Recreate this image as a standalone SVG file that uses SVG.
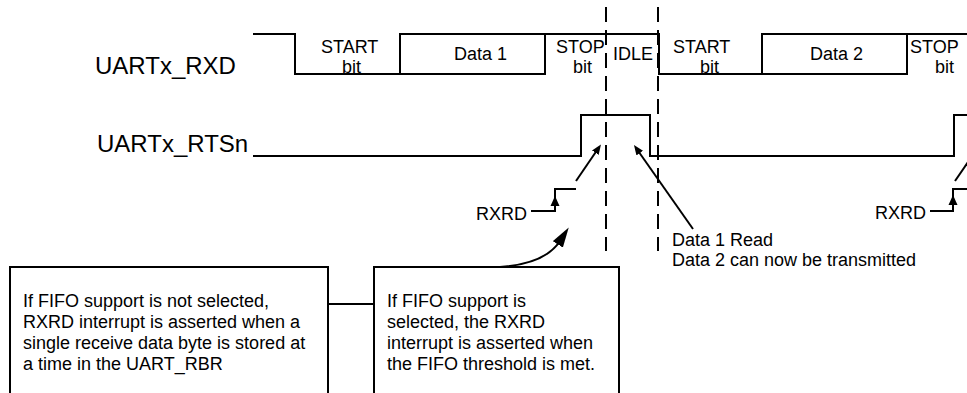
<svg xmlns="http://www.w3.org/2000/svg" width="967" height="393" viewBox="0 0 967 393">
<style>
  text { font-family: "Liberation Sans", Arial, sans-serif; fill: #000; }
  .sig { font-size: 24px; }
  .lbl { font-size: 18px; }
  .wave { fill: none; stroke: #000; stroke-width: 2; }
  .box { fill: #fff; stroke: #000; stroke-width: 2; }
  .dash { stroke: #000; stroke-width: 2; stroke-dasharray: 15 8; fill: none; }
  .conn { fill: none; stroke: #000; stroke-width: 2; }
</style>
<defs>
  <marker id="arr" markerUnits="userSpaceOnUse" markerWidth="10" markerHeight="8" refX="3" refY="4" orient="auto" viewBox="0 0 10 8">
    <path d="M0,0 L10,4 L0,8 z" fill="#000"/>
  </marker>
  <marker id="arrBig" markerUnits="userSpaceOnUse" markerWidth="20" markerHeight="12" refX="4" refY="6" orient="auto" viewBox="0 0 20 12">
    <path d="M0,0 L20,6 L0,12 z" fill="#000"/>
  </marker>
  <path id="triUp" d="M0,0 L4.5,10 L-4.5,10 z" fill="#000"/>
</defs>

<g id="rxd">
  <text class="sig" x="95" y="74">UARTx_RXD</text>
  <path class="wave" d="M253,34 H295 V74 H400 V34 H545 M400,74 H545 V34 H659 V74 H762 V34 H907 M762,74 H907 V34 H967"/>
  <text class="lbl" x="321" y="53">START</text>
  <text class="lbl" x="342" y="73">bit</text>
  <text class="lbl" x="454" y="60">Data 1</text>
  <text class="lbl" x="556" y="53">STOP</text>
  <text class="lbl" x="573" y="73">bit</text>
  <text class="lbl" x="613" y="60">IDLE</text>
  <text class="lbl" x="673" y="53">START</text>
  <text class="lbl" x="700" y="73">bit</text>
  <text class="lbl" x="810" y="60">Data 2</text>
  <text class="lbl" x="910" y="53">STOP</text>
  <text class="lbl" x="935" y="73">bit</text>
</g>

<g id="rtsn">
  <text class="sig" x="97" y="152">UARTx_RTSn</text>
  <path class="wave" d="M253,156 H581 V115 H650 V156 H954 V115 H967"/>
</g>

<g id="dashed-lines">
  <line class="dash" x1="606" y1="7" x2="606" y2="251"/>
  <line class="dash" x1="658" y1="7" x2="658" y2="251"/>
</g>

<g id="rxrd1">
  <text class="lbl" x="476" y="220">RXRD</text>
  <path class="wave" d="M531,211 H555 V189 H576"/>
  <use href="#triUp" x="555" y="196"/>
</g>

<g id="rxrd2">
  <text class="lbl" x="875" y="219">RXRD</text>
  <path class="wave" d="M930,211 H953 V189 H967"/>
  <use href="#triUp" x="953" y="195"/>
</g>

<g id="note-read">
  <text class="lbl" x="672" y="246">Data 1 Read</text>
  <text class="lbl" x="672" y="266">Data 2 can now be transmitted</text>
</g>

<g id="box-nofifo">
  <rect class="box" x="10" y="267" width="318" height="140"/>
  <text class="lbl" x="23" y="307">If FIFO support is not selected,</text>
  <text class="lbl" x="23" y="328">RXRD interrupt is asserted when a</text>
  <text class="lbl" x="23" y="349">single receive data byte is stored at</text>
  <text class="lbl" x="23" y="370">a time in the UART_RBR</text>
</g>

<g id="box-fifo">
  <rect class="box" x="374" y="267" width="245" height="140"/>
  <text class="lbl" x="387" y="307">If FIFO support is</text>
  <text class="lbl" x="387" y="328">selected, the RXRD</text>
  <text class="lbl" x="387" y="349">interrupt is asserted when</text>
  <text class="lbl" x="387" y="370">the FIFO threshold is met.</text>
</g>

<g id="connectors">
  <line class="conn" x1="328" y1="304" x2="374" y2="304" stroke-width="1.5"/>
  <line class="conn" x1="576" y1="181" x2="597" y2="150.2" marker-end="url(#arr)"/>
  <line class="conn" x1="693" y1="229" x2="638" y2="150.7" marker-end="url(#arr)"/>
  <line class="conn" x1="955" y1="181" x2="973" y2="154.8" marker-end="url(#arr)"/>
  <path class="conn" d="M500,267 Q545,264 560,241" marker-end="url(#arrBig)"/>
</g>
</svg>
